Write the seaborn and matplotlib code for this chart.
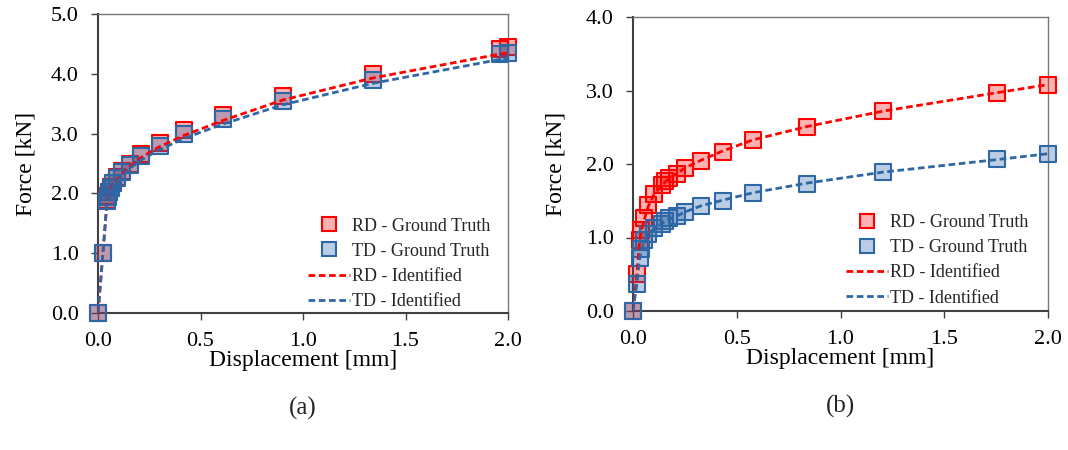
import matplotlib
matplotlib.use("Agg")
import matplotlib.pyplot as plt
import seaborn as sns
import pandas as pd
from matplotlib.lines import Line2D

# ---------------- data ----------------
# panel (a)
disp_a = [0, 0.024, 0.044, 0.05, 0.056, 0.063, 0.073, 0.093, 0.117, 0.156, 0.21, 0.30, 0.42, 0.61, 0.90, 1.34, 1.96, 2.0]
rd_gt_a = [0, 1.0, 1.89, 1.95, 2.03, 2.10, 2.18, 2.27, 2.37, 2.49, 2.66, 2.84, 3.06, 3.31, 3.63, 4.00, 4.42, 4.44]
td_gt_a = [0, 1.0, 1.88, 1.94, 2.02, 2.09, 2.17, 2.25, 2.35, 2.47, 2.62, 2.79, 2.99, 3.24, 3.55, 3.90, 4.33, 4.35]
rd_id_a = [0, 1.0, 1.87, 1.93, 2.00, 2.07, 2.14, 2.22, 2.32, 2.45, 2.60, 2.78, 2.97, 3.22, 3.56, 3.93, 4.33, 4.35]
td_id_a = [0, 1.0, 1.86, 1.92, 1.99, 2.05, 2.12, 2.20, 2.29, 2.42, 2.56, 2.73, 2.92, 3.16, 3.48, 3.84, 4.24, 4.26]

# panel (b)
disp_b = [0, 0.018, 0.032, 0.040, 0.055, 0.073, 0.10, 0.14, 0.156, 0.173, 0.21, 0.253, 0.327, 0.435, 0.58, 0.839, 1.206, 1.754, 2.0]
rd_gt_b = [0, 0.50, 0.97, 1.10, 1.26, 1.44, 1.59, 1.72, 1.77, 1.81, 1.87, 1.95, 2.04, 2.17, 2.32, 2.50, 2.72, 2.97, 3.07]
td_gt_b = [0, 0.37, 0.72, 0.84, 0.96, 1.05, 1.13, 1.19, 1.22, 1.26, 1.29, 1.35, 1.43, 1.50, 1.61, 1.73, 1.89, 2.07, 2.13]
rd_id_b = [0, 0.48, 0.95, 1.08, 1.25, 1.42, 1.58, 1.71, 1.76, 1.80, 1.87, 1.95, 2.05, 2.18, 2.33, 2.51, 2.72, 2.97, 3.08]
td_id_b = [0, 0.36, 0.71, 0.83, 0.95, 1.04, 1.12, 1.19, 1.22, 1.25, 1.29, 1.35, 1.43, 1.51, 1.61, 1.74, 1.89, 2.06, 2.14]

x_ticks = [0.0, 0.5, 1.0, 1.5, 2.0]
y_ticks_a = [0.0, 1.0, 2.0, 3.0, 4.0, 5.0]
y_ticks_b = [0.0, 1.0, 2.0, 3.0, 4.0]

labels = ["RD - Ground Truth", "TD - Ground Truth", "RD - Identified", "TD - Identified"]
panel_tags = ["(a)", "(b)"]

# ---------------- style ----------------
sns.set_theme(style="white")
plt.rcParams['font.family'] = ['Liberation Serif', 'DejaVu Serif']

RED = "#FF0000"
BLUE = "#2E67A6"
red_face = (1.0, 0.0, 0.0, 0.30)
blue_face = (0.18, 0.40, 0.65, 0.32)
DASH = (0, (2.4, 1.3))

fig = plt.figure(figsize=(10.68, 4.5), dpi=100)
ax_a = fig.add_axes([98 / 1068, 1 - 313 / 450, 410 / 1068, 299 / 450])
ax_b = fig.add_axes([633 / 1068, 1 - 311 / 450, 415 / 1068, 294 / 450])


def draw(ax, disp, rd_gt, td_gt, rd_id, td_id, yticks, legend_anchor):
    df = pd.DataFrame({"d": disp, "rd_gt": rd_gt, "td_gt": td_gt, "rd_id": rd_id, "td_id": td_id})
    sns.scatterplot(data=df, x="d", y="rd_gt", ax=ax, marker="s", s=120,
                    color=red_face, edgecolor=RED, linewidth=1.5, zorder=3, clip_on=False, legend=False)
    sns.scatterplot(data=df, x="d", y="td_gt", ax=ax, marker="s", s=120,
                    color=blue_face, edgecolor=BLUE, linewidth=1.5, zorder=4, clip_on=False, legend=False)
    sns.lineplot(data=df, x="d", y="rd_id", ax=ax, color=RED, linewidth=2, zorder=5,
                 sort=False, legend=False)
    sns.lineplot(data=df, x="d", y="td_id", ax=ax, color=BLUE, linewidth=2, zorder=6,
                 sort=False, legend=False)
    for ln in ax.get_lines():
        ln.set_linestyle(DASH)
    ax.set_xlim(0, 2.0)
    ax.set_ylim(yticks[0], yticks[-1])
    ax.set_xticks(x_ticks)
    ax.set_yticks(yticks)
    ax.set_xticklabels([f"{v:.1f}" for v in x_ticks])
    ax.set_yticklabels([f"{v:.1f}" for v in yticks])
    ax.tick_params(axis="both", which="both", direction="out", length=5, width=1,
                   color="#404040", labelsize=16, pad=9, labelcolor="black",
                   bottom=True, left=True)
    for side in ["left", "bottom"]:
        ax.spines[side].set_color("#404040")
        ax.spines[side].set_linewidth(1.5)
    for side in ["top", "right"]:
        ax.spines[side].set_color("#777777")
        ax.spines[side].set_linewidth(1.0)
    ax.set_xlabel("Displacement [mm]", fontsize=17, color="black")
    ax.set_ylabel("Force [kN]", fontsize=17, color="black")
    ax.grid(False)
    handles = [
        Line2D([], [], linestyle="none", marker="s", markersize=10, markerfacecolor=red_face,
               markeredgecolor=RED, markeredgewidth=1.5),
        Line2D([], [], linestyle="none", marker="s", markersize=10, markerfacecolor=blue_face,
               markeredgecolor=BLUE, markeredgewidth=1.5),
        Line2D([], [], color=RED, linewidth=2, linestyle=DASH),
        Line2D([], [], color=BLUE, linewidth=2, linestyle=DASH),
    ]
    ax.legend(handles, labels, loc="lower right", bbox_to_anchor=legend_anchor, frameon=False,
              fontsize=13, handlelength=2.3, handletextpad=0.1, labelspacing=0.45,
              borderpad=0, borderaxespad=0)


draw(ax_a, disp_a, rd_gt_a, td_gt_a, rd_id_a, td_id_a, y_ticks_a, (0.956, 0.01))
draw(ax_b, disp_b, rd_gt_b, td_gt_b, rd_id_b, td_id_b, y_ticks_b, (0.952, 0.015))

ax_a.yaxis.set_label_coords(-0.151, 0.5)
ax_b.yaxis.set_label_coords(-0.161, 0.5)
for ax, tag in zip([ax_a, ax_b], panel_tags):
    h = ax.get_position().height * 450
    ax.xaxis.set_label_coords(0.5, -37 / h)
    ax.text(0.5, -95 / h, tag, transform=ax.transAxes, ha="center", va="center", fontsize=18)

fig.savefig("out.png", dpi=100)
